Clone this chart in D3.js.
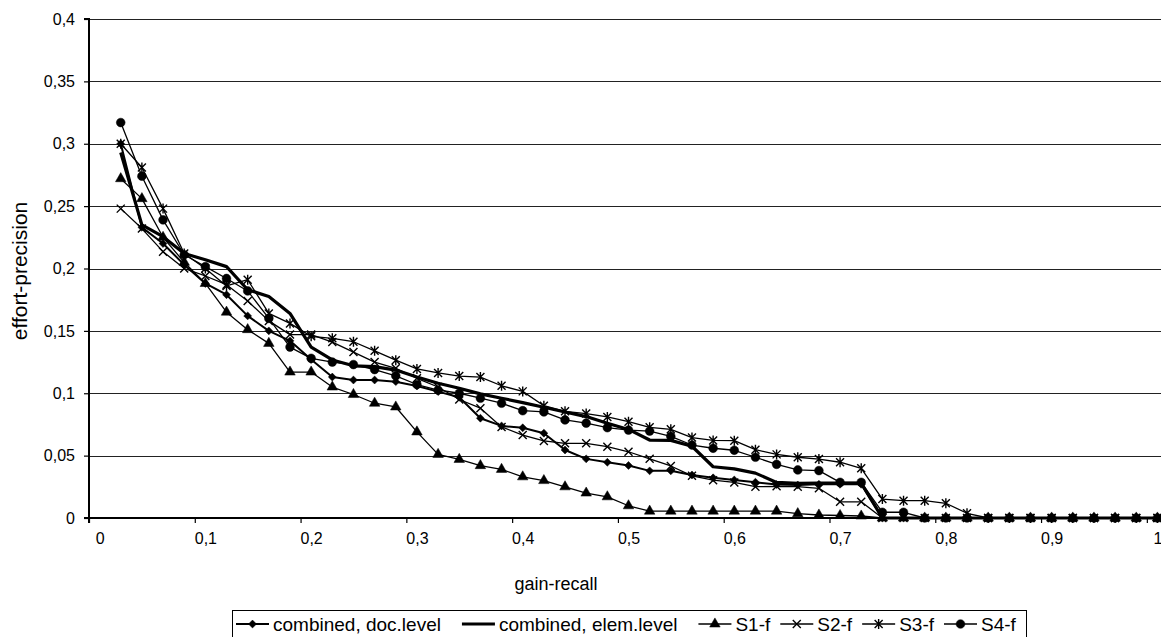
<!DOCTYPE html>
<html>
<head>
<meta charset="utf-8">
<script src="https://cdn.jsdelivr.net/npm/d3@7"></script>
<style>
  html, body { margin: 0; padding: 0; background: #fff; }
  svg { display: block; font-family: Arial, "Liberation Sans", sans-serif; }
</style>
</head>
<body>
<svg id="chart" width="1161" height="637"></svg>
<script>
// x categories (gain-recall), one point every 0.02
const recall = [0.02, 0.04, 0.06, 0.08, 0.10, 0.12, 0.14, 0.16, 0.18, 0.20,
  0.22, 0.24, 0.26, 0.28, 0.30, 0.32, 0.34, 0.36, 0.38, 0.40,
  0.42, 0.44, 0.46, 0.48, 0.50, 0.52, 0.54, 0.56, 0.58, 0.60,
  0.62, 0.64, 0.66, 0.68, 0.70, 0.72, 0.74, 0.76, 0.78, 0.80,
  0.82, 0.84, 0.86, 0.88, 0.90, 0.92, 0.94, 0.96, 0.98, 1.00];

const docLevel = [0.300, 0.233, 0.220, 0.203, 0.188, 0.179, 0.162, 0.150, 0.142, 0.127,
  0.113, 0.1106, 0.1106, 0.1093, 0.1058, 0.1013, 0.0968, 0.080, 0.0738, 0.0723,
  0.068, 0.0545, 0.0474, 0.0447, 0.0421, 0.0378, 0.0378, 0.0345, 0.0322, 0.0305,
  0.0287, 0.0268, 0.0265, 0.027, 0.027, 0.027, 0, 0, 0, 0,
  0, 0, 0, 0, 0, 0, 0, 0, 0, 0];

const elemLevel = [0.293, 0.235, 0.2255, 0.212, 0.207, 0.2015, 0.183, 0.1775, 0.164, 0.137,
  0.1267, 0.122, 0.1213, 0.1186, 0.113, 0.108, 0.104, 0.0995, 0.096, 0.0925,
  0.0888, 0.085, 0.0813, 0.076, 0.071, 0.0625, 0.0622, 0.0575, 0.0411, 0.0394,
  0.036, 0.0285, 0.0278, 0.028, 0.028, 0.028, 0, 0, 0, 0,
  0, 0, 0, 0, 0, 0, 0, 0, 0, 0];

const s1 = [0.272, 0.256, 0.225, 0.205, 0.188, 0.165, 0.151, 0.140, 0.117, 0.117,
  0.105, 0.099, 0.092, 0.089, 0.069, 0.051, 0.047, 0.042, 0.039, 0.033,
  0.030, 0.025, 0.020, 0.017, 0.0098, 0.0055, 0.0055, 0.0055, 0.0055, 0.0055,
  0.0055, 0.0055, 0.0035, 0.0024, 0.002, 0.0016, 0, 0, 0, 0,
  0, 0, 0, 0, 0, 0, 0, 0, 0, 0];

const s2 = [0.248, 0.232, 0.2135, 0.200, 0.194, 0.187, 0.174, 0.158, 0.147, 0.147,
  0.141, 0.133, 0.125, 0.120, 0.112, 0.105, 0.095, 0.088, 0.073, 0.0665,
  0.0618, 0.0599, 0.0599, 0.0572, 0.0531, 0.0474, 0.0417, 0.0338, 0.0303, 0.0285,
  0.0251, 0.0254, 0.0251, 0.0238, 0.013, 0.013, 0, 0, 0, 0,
  0, 0, 0, 0, 0, 0, 0, 0, 0, 0];

const s3 = [0.300, 0.281, 0.248, 0.212, 0.200, 0.186, 0.191, 0.164, 0.156, 0.1456,
  0.144, 0.1413, 0.134, 0.1265, 0.1195, 0.1163, 0.1138, 0.113, 0.106, 0.1015,
  0.090, 0.0855, 0.0837, 0.081, 0.0772, 0.0727, 0.0711, 0.0645, 0.0622, 0.062,
  0.0548, 0.051, 0.0487, 0.0472, 0.0447, 0.0398, 0.0152, 0.0139, 0.0139, 0.0118,
  0.0038, 0, 0, 0, 0, 0, 0, 0, 0, 0];

const s4 = [0.317, 0.274, 0.239, 0.211, 0.2015, 0.192, 0.182, 0.160, 0.137, 0.128,
  0.125, 0.123, 0.119, 0.114, 0.107, 0.1026, 0.100, 0.096, 0.092, 0.086,
  0.085, 0.0786, 0.076, 0.0724, 0.0705, 0.0697, 0.0655, 0.0585, 0.0559, 0.0543,
  0.0487, 0.043, 0.0385, 0.038, 0.0286, 0.0286, 0.0046, 0.0046, 0, 0,
  0, 0, 0, 0, 0, 0, 0, 0, 0, 0];

const xTicks = [0, 0.1, 0.2, 0.3, 0.4, 0.5, 0.6, 0.7, 0.8, 0.9, 1];
const yTicks = [0, 0.05, 0.1, 0.15, 0.2, 0.25, 0.3, 0.35, 0.4];

const seriesNames = ["combined, doc.level", "combined, elem.level", "S1-f", "S2-f", "S3-f", "S4-f"];

// excel style markers
const crossSymbol = {
  draw(ctx, size) {
    const r = Math.sqrt(size) / 2;
    ctx.moveTo(-r, -r); ctx.lineTo(r, r);
    ctx.moveTo(r, -r); ctx.lineTo(-r, r);
  }
};
const starSymbol = {
  draw(ctx, size) {
    const r = Math.sqrt(size) / 2;
    ctx.moveTo(-r, -r); ctx.lineTo(r, r);
    ctx.moveTo(r, -r); ctx.lineTo(-r, r);
    ctx.moveTo(0, -r * 1.25); ctx.lineTo(0, r * 1.25);
  }
};

const series = [
  { name: seriesNames[0], values: docLevel, width: 2, marker: d3.symbolDiamond2, size: 40, fill: true, gap: 21 },
  { name: seriesNames[1], values: elemLevel, width: 3.2, marker: null, gap: 21 },
  { name: seriesNames[2], values: s1, width: 1.3, marker: d3.symbolTriangle, size: 48, fill: true, gap: 10 },
  { name: seriesNames[3], values: s2, width: 1.3, marker: crossSymbol, size: 64, fill: false, gap: 10 },
  { name: seriesNames[4], values: s3, width: 1.3, marker: starSymbol, size: 64, fill: false, gap: 10 },
  { name: seriesNames[5], values: s4, width: 1.3, marker: d3.symbolCircle, size: 60, fill: true, gap: 10 }
];

const svg = d3.select("#chart");
const plotLeft = 89, plotTop = 19, plotBottom = 518, plotRight = 1168;

// categories sit in the middle of their slot, ticks between slots
const x = d3.scaleLinear().domain([-0.01, 1.01]).range([plotLeft, plotRight]);
const y = d3.scaleLinear().domain([0, 0.4]).range([plotBottom, plotTop]);
const slot = x(0) - x(-0.01);
const fmt = d => String(d).replace(".", ",");

// grid
svg.append("g")
  .selectAll("line")
  .data(yTicks.filter(d => d > 0))
  .join("line")
  .attr("x1", plotLeft).attr("x2", plotRight)
  .attr("y1", d => Math.round(y(d)) + 0.5).attr("y2", d => Math.round(y(d)) + 0.5)
  .attr("stroke", "#222").attr("stroke-width", 1);

// axes
const yAxis = svg.append("g")
  .attr("transform", `translate(${plotLeft},0)`)
  .call(d3.axisLeft(y).tickValues(yTicks).tickSize(5).tickPadding(9).tickFormat(fmt));

const xAxis = svg.append("g")
  .attr("transform", `translate(0,${plotBottom})`)
  .call(d3.axisBottom(x).tickValues(xTicks).tickSize(5).tickPadding(10).tickFormat(fmt));
xAxis.selectAll(".tick line").attr("transform", `translate(${-slot},0)`);

[xAxis, yAxis].forEach(a => {
  a.select(".domain").attr("stroke", "#000").attr("stroke-width", 2);
  a.selectAll(".tick line").attr("stroke", "#000").attr("stroke-width", 1.2);
  a.selectAll("text").attr("fill", "#000").style("font-size", "16px");
});
yAxis.select(".domain").attr("d", `M-5,${plotTop}H0V${plotBottom}H-5`);
xAxis.select(".domain").attr("d", `M${plotLeft},5V0H${plotRight}`);

// titles
svg.append("text")
  .attr("x", 556).attr("y", 590)
  .attr("text-anchor", "middle")
  .style("font-size", "18px")
  .text("gain-recall");

svg.append("text")
  .attr("transform", "translate(27,271) rotate(-90)")
  .attr("text-anchor", "middle")
  .style("font-size", "21px")
  .text("effort-precision");

// lines and markers
const line = d3.line()
  .x((d, i) => x(recall[i]))
  .y(d => y(d));

const plot = svg.append("g");

function drawMarker(g, s, px, py) {
  g.append("path")
    .attr("d", d3.symbol(s.marker, s.size)())
    .attr("transform", `translate(${px},${py})`)
    .attr("fill", s.fill ? "#000" : "none")
    .attr("stroke", "#000")
    .attr("stroke-width", s.fill ? 0.5 : 1.4);
}

series.forEach(s => {
  const g = plot.append("g");
  g.append("path")
    .datum(s.values)
    .attr("d", line)
    .attr("fill", "none")
    .attr("stroke", "#000")
    .attr("stroke-width", s.width)
    .attr("stroke-linejoin", "round");
  if (s.marker) {
    s.values.forEach((v, i) => drawMarker(g, s, x(recall[i]), y(v)));
  }
});

// legend
const legend = svg.append("g");
legend.append("rect")
  .attr("x", 232.5).attr("y", 610.5)
  .attr("width", 794).attr("height", 40)
  .attr("fill", "#fff").attr("stroke", "#000").attr("stroke-width", 1);

let cx = 236;
const ly = 624;
series.forEach(s => {
  legend.append("line")
    .attr("x1", cx).attr("x2", cx + 33)
    .attr("y1", ly).attr("y2", ly)
    .attr("stroke", "#000").attr("stroke-width", s.width);
  if (s.marker) drawMarker(legend, s, cx + 16.5, ly);
  const t = legend.append("text")
    .attr("x", cx + 37).attr("y", ly)
    .attr("dy", "0.35em")
    .style("font-size", "19px")
    .text(s.name);
  cx += 37 + t.node().getComputedTextLength() + s.gap;
});
</script>
</body>
</html>
